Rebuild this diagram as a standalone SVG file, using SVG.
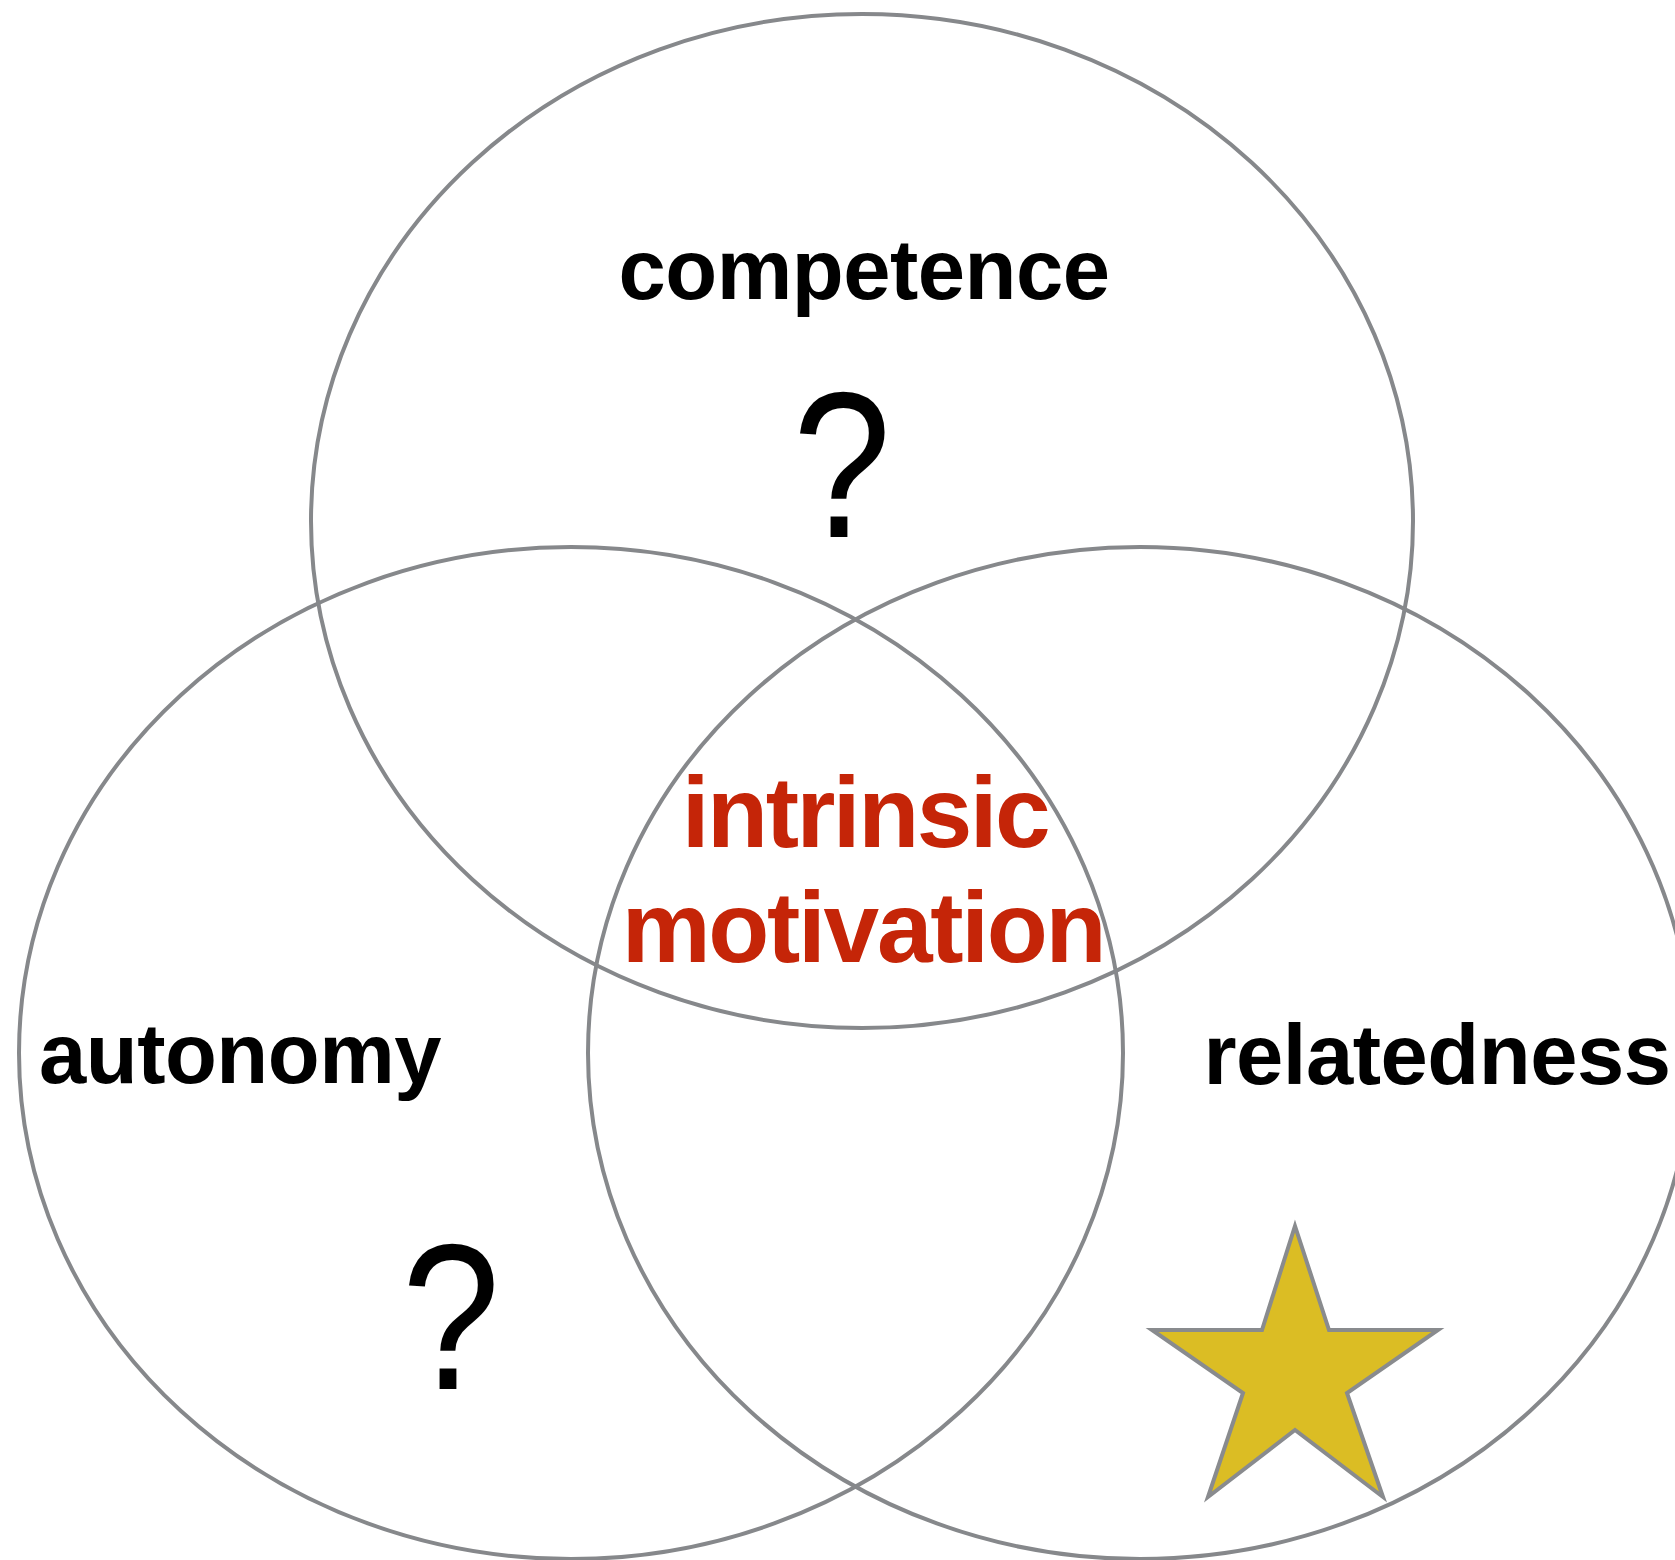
<svg xmlns="http://www.w3.org/2000/svg" width="1675" height="1560" viewBox="0 0 1675 1560">
  <style>
    .ring { fill: none; stroke: #86888b; stroke-width: 4; }
    .label { font-family: "Liberation Sans", Arial, Helvetica, sans-serif; font-weight: bold; font-size: 85px; fill: #000000; letter-spacing: -0.5px; }
    .center { font-family: "Liberation Sans", Arial, Helvetica, sans-serif; font-weight: bold; font-size: 100px; fill: #c52508; }
    .q { font-family: "Liberation Sans", Arial, Helvetica, sans-serif; font-weight: normal; font-size: 208px; fill: #000000; }
  </style>
  <rect x="0" y="0" width="1675" height="1560" fill="#ffffff"/>
  <g id="circles">
    <ellipse id="competence-circle" class="ring" cx="862" cy="521" rx="551" ry="507"/>
    <ellipse id="autonomy-circle" class="ring" cx="571" cy="1053" rx="552" ry="506"/>
    <ellipse id="relatedness-circle" class="ring" cx="1140" cy="1053" rx="552" ry="506"/>
  </g>
  <g id="competence">
    <text class="label" x="864" y="299" text-anchor="middle">competence</text>
    <text class="q" transform="translate(842,537) scale(0.85,1)" x="0" y="0" text-anchor="middle">?</text>
  </g>
  <g id="autonomy">
    <text class="label" x="240" y="1083" text-anchor="middle">autonomy</text>
    <text class="q" transform="translate(451,1389) scale(0.85,1)" x="0" y="0" text-anchor="middle">?</text>
  </g>
  <g id="relatedness">
    <text class="label" x="1437" y="1084" text-anchor="middle">relatedness</text>
    <polygon points="1295,1226 1329,1330 1438,1330 1347,1393 1383,1497 1295,1430 1208,1497 1243,1393 1152,1330 1262,1330" fill="#dbbd24" stroke="#898b8e" stroke-width="4"/>
  </g>
  <g id="intrinsic-motivation">
    <text class="center" x="865" y="847" text-anchor="middle" letter-spacing="-2.5">intrinsic</text>
    <text class="center" x="863" y="962" text-anchor="middle" letter-spacing="-2.3">motivation</text>
  </g>
</svg>
